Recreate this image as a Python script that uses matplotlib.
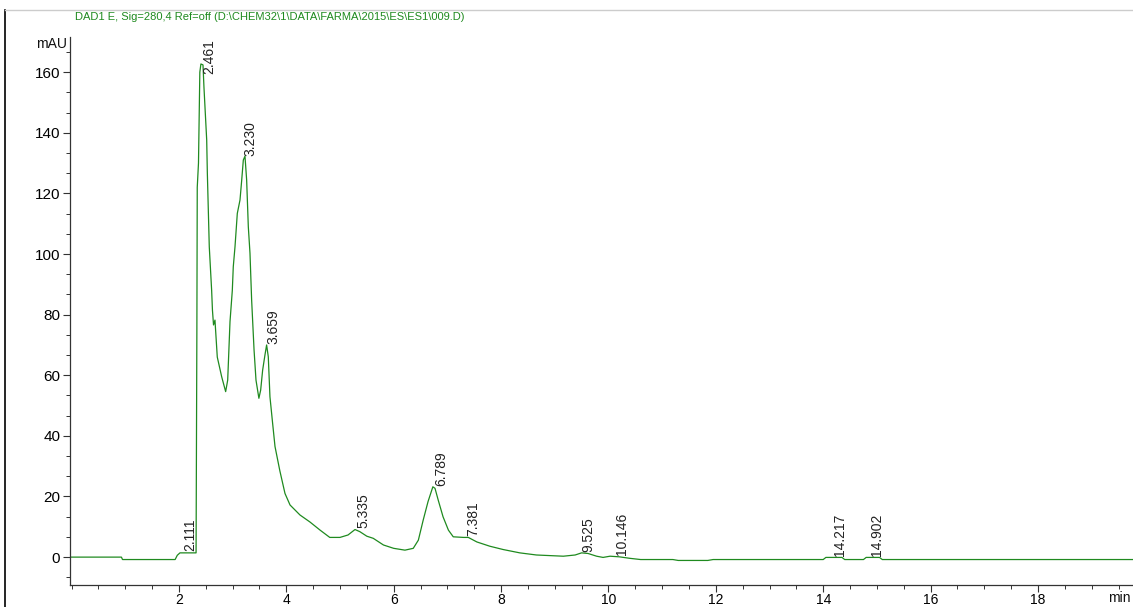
import matplotlib
matplotlib.use("Agg")
import matplotlib.pyplot as plt
from matplotlib.ticker import AutoMinorLocator
from matplotlib.lines import Line2D

# ---- data ----
time_min = [0.0, 0.93, 0.95, 1.93, 1.97, 2.02, 2.32, 2.335, 2.342, 2.365, 2.39, 2.41,
            2.449, 2.467, 2.518, 2.53, 2.566, 2.61, 2.625, 2.645, 2.672, 2.715, 2.797,
            2.871, 2.909, 2.952, 2.995, 3.013, 3.045, 3.088, 3.138, 3.17, 3.2, 3.231,
            3.262, 3.293, 3.324, 3.355, 3.40, 3.436, 3.49, 3.523, 3.56, 3.603, 3.634,
            3.665, 3.696, 3.746, 3.79, 3.88, 3.976, 4.07, 4.255, 4.44, 4.63, 4.81, 5.0,
            5.15, 5.28, 5.37, 5.5, 5.62, 5.81, 6.0, 6.21, 6.365, 6.46, 6.55, 6.64, 6.73,
            6.77, 6.83, 6.92, 7.02, 7.11, 7.30, 7.39, 7.55, 7.79, 8.04, 8.35, 8.66, 9.16,
            9.38, 9.5, 9.62, 9.78, 9.9, 10.03, 10.2, 10.4, 10.6, 11.2, 11.3, 11.85, 11.95,
            14.0, 14.05, 14.35, 14.4, 14.75, 14.8, 15.05, 15.1, 19.77]
signal_mau = [0.0, 0.0, -0.8, -0.8, 0.6, 1.4, 1.4, 75.0, 122.0, 130.0, 160.0, 162.7,
              162.4, 155.0, 137.6, 126.7, 102.4, 88.0, 81.5, 76.6, 78.2, 66.0, 59.5,
              54.6, 58.4, 77.7, 88.0, 95.8, 102.4, 113.4, 117.8, 124.4, 131.0, 132.3,
              124.4, 109.0, 100.3, 84.8, 68.3, 58.4, 52.4, 55.1, 61.7, 66.7, 70.0,
              66.1, 52.9, 44.1, 36.5, 28.5, 21.0, 17.2, 13.9, 11.6, 8.9, 6.5, 6.5,
              7.3, 9.1, 8.4, 6.9, 6.2, 4.0, 2.9, 2.3, 2.9, 5.6, 12.2, 18.3, 23.2,
              22.7, 18.8, 13.3, 8.9, 6.7, 6.5, 6.5, 5.0, 3.6, 2.5, 1.4, 0.7, 0.3,
              0.7, 1.4, 1.2, 0.3, -0.1, 0.3, 0.1, -0.4, -0.8, -0.8, -1.1, -1.1, -0.8,
              -0.8, -0.1, -0.1, -0.8, -0.8, -0.1, -0.1, -0.8, -0.8]

peak_labels = ["2.111", "2.461", "3.230", "3.659", "5.335", "6.789", "7.381",
               "9.525", "10.146", "14.217", "14.902"]
peak_times = [2.111, 2.461, 3.230, 3.659, 5.335, 6.789, 7.381, 9.525, 10.146, 14.217, 14.902]
peak_heights = [1.4, 159.0, 132.0, 70.0, 9.0, 23.0, 6.5, 1.3, 0.3, -0.1, -0.1]

x_ticks = [2, 4, 6, 8, 10, 12, 14, 16, 18]
y_ticks = [0, 20, 40, 60, 80, 100, 120, 140, 160]

title_text = "DAD1 E, Sig=280,4 Ref=off (D:\\CHEM32\\1\\DATA\\FARMA\\2015\\ES\\ES1\\009.D)"

font = ["Liberation Sans Narrow", "Liberation Sans", "DejaVu Sans"]

W, H = 1133, 607
fig = plt.figure(figsize=(W / 100, H / 100), dpi=100)
fig.patch.set_facecolor("white")

ax_l, ax_r, ax_b, ax_t = 70, 1133, 585, 37
ax = fig.add_axes([ax_l / W, (H - ax_b) / H, (ax_r - ax_l) / W, (ax_b - ax_t) / H])

ax.plot(time_min, signal_mau, color="#1f8a1f", linewidth=0.9)

ax.set_xlim(-0.028, 19.77)
ax.set_ylim(-9.2, 171.6)

for sp in ["top", "right"]:
    ax.spines[sp].set_visible(False)
for sp in ["left", "bottom"]:
    ax.spines[sp].set_color("#333333")
    ax.spines[sp].set_linewidth(0.9)

ax.set_xticks(x_ticks)
ax.set_yticks(y_ticks)
ax.xaxis.set_minor_locator(AutoMinorLocator(4))
ax.yaxis.set_minor_locator(AutoMinorLocator(3))
ax.tick_params(axis="both", which="major", direction="out", length=5, width=0.8,
               color="#333333")
ax.tick_params(axis="both", which="minor", direction="out", length=3, width=0.7,
               color="#333333")
ax.tick_params(axis="x", pad=1)
ax.tick_params(axis="y", pad=2)
for lab in ax.get_xticklabels():
    lab.set_family(font)
    lab.set_fontsize(10)
for lab in ax.get_yticklabels():
    lab.set_family(font)
    lab.set_fontsize(11)

for lbl, t, h in zip(peak_labels, peak_times, peak_heights):
    ax.annotate(lbl, xy=(t, h), xytext=(-1, 1), textcoords="offset points",
                rotation=90, ha="left", va="bottom", fontsize=10,
                family=font, color="#222222")

fig.text(67 / W, 1 - 44 / H, "mAU", ha="right", va="center", fontsize=10,
         family=font, color="#111111")
fig.text(1131 / W, 1 - 598 / H, "min", ha="right", va="center", fontsize=10,
         family=font, color="#111111")

fig.text(75 / W, 1 - 17 / H, title_text, ha="left", va="center", fontsize=8,
         family=font, color="#1f8a1f")

fig.add_artist(Line2D([5 / W, 5 / W], [0, 1 - 10 / H], color="black", linewidth=1.2,
                      transform=fig.transFigure))
fig.add_artist(Line2D([5 / W, 1], [1 - 10 / H, 1 - 10 / H], color="#cccccc",
                      linewidth=1.0, transform=fig.transFigure))

fig.savefig("out.png", dpi=100, facecolor="white")
